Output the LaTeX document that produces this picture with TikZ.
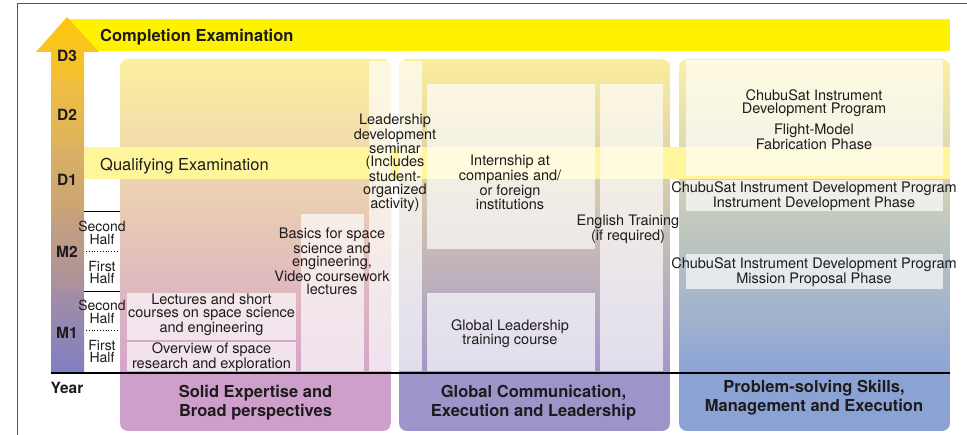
\documentclass[tikz,border=0pt]{standalone}
\usepackage{fontspec}
\setmainfont{TeX Gyre Heros}
\definecolor{txt}{HTML}{1E1B1C}
\definecolor{bannery}{HTML}{FFF200}
\definecolor{bandy}{HTML}{FFF59B}
\definecolor{c1a}{HTML}{FCF09E}
\definecolor{c1b}{HTML}{E9CFB3}
\definecolor{c1c}{HTML}{D4A4CC}
\definecolor{c1l}{HTML}{CE9FCB}
\definecolor{c2a}{HTML}{FBEE9C}
\definecolor{c2b}{HTML}{CDBDB5}
\definecolor{c2c}{HTML}{A296CA}
\definecolor{c2l}{HTML}{9D94C9}
\definecolor{c3a}{HTML}{FDF0A2}
\definecolor{c3b}{HTML}{C8C8BA}
\definecolor{c3c}{HTML}{8CA4D6}
\definecolor{c3l}{HTML}{8BA3D4}
\definecolor{frame}{HTML}{555555}
\definecolor{a3t}{HTML}{FDC60E}
\definecolor{a3b}{HTML}{F3C134}
\definecolor{a2t}{HTML}{F0BE3E}
\definecolor{a2b}{HTML}{DDB35E}
\definecolor{a1t}{HTML}{DBB064}
\definecolor{a1b}{HTML}{CBA474}
\definecolor{m2t}{HTML}{C8A27C}
\definecolor{m2b}{HTML}{A8909E}
\definecolor{m1t}{HTML}{A28EA6}
\definecolor{m1b}{HTML}{7F7FC1}
\tikzset{
  body/.style={font=\fontsize{14.5}{13}\selectfont, text=txt, align=center, inner sep=0pt},
  lbl/.style={font=\bfseries\fontsize{16.5}{18.5}\selectfont, text=txt, align=center, inner sep=0pt},
  yrlbl/.style={font=\bfseries\fontsize{15.5}{15.5}\selectfont, text=txt, inner sep=0pt},
  halflbl/.style={font=\fontsize{14}{12.5}\selectfont, text=txt, align=center, inner sep=0pt},
  inbox/.style={fill=white, fill opacity=0.68},
}
\begin{document}
\begin{tikzpicture}[x=1pt,y=-1pt]
\useasboundingbox (0,0) rectangle (967,435);
% frame
\draw[frame, line width=1pt] (17,435) -- (17,4) -- (967,4);
% completion banner
\fill[bannery] (70,19) rectangle (950,51);
% arrow
\shade[top color=a3t, bottom color=a3b] (51,80) -- (51,52) -- (36,52) -- (67,17) -- (99,52) -- (84,52) -- (84,80) -- cycle;
\shade[top color=a2t, bottom color=a2b] (51,81) rectangle (84,146);
\shade[top color=a1t, bottom color=a1b] (51,147) rectangle (84,211);
\shade[top color=m2t, bottom color=m2b] (51,212) rectangle (84,291);
\shade[top color=m1t, bottom color=m1b] (51,292) rectangle (84,373);
% column backgrounds
\begin{scope}
  \clip[rounded corners=8pt] (120,59) rectangle (391,431);
  \shade[top color=c1a, middle color=c1b, bottom color=c1c] (120,59) rectangle (391,373);
  \fill[c1l] (120,373) rectangle (391,431);
\end{scope}
\begin{scope}
  \clip[rounded corners=8pt] (399,59) rectangle (670,431);
  \shade[top color=c2a, middle color=c2b, bottom color=c2c] (399,59) rectangle (670,373);
  \fill[c2l] (399,373) rectangle (670,431);
\end{scope}
\begin{scope}
  \clip[rounded corners=8pt] (679,59) rectangle (950,431);
  \shade[top color=c3a, middle color=c3b, bottom color=c3c] (679,59) rectangle (950,373);
  \fill[c3l] (679,373) rectangle (950,431);
\end{scope}
% qualifying band
\fill[bandy] (84,147) rectangle (950,179);
% inner boxes
\begin{scope}
  \clip[rounded corners=8pt] (120,59) rectangle (391,431);
  \fill[inbox] (127,293) rectangle (296,340);
  \fill[inbox] (127,342) rectangle (296,371);
  \fill[inbox] (301,214) rectangle (364,371);
  \fill[inbox] (369,61) rectangle (391,371);
\end{scope}
\begin{scope}
  \clip[rounded corners=8pt] (399,59) rectangle (670,431);
  \fill[inbox] (399,61) rectangle (422,371);
  \fill[inbox] (427,84) rectangle (595,249);
  \fill[inbox] (600,84) rectangle (663,371);
  \fill[inbox] (427,293) rectangle (595,371);
\end{scope}
\begin{scope}
  \clip[rounded corners=8pt] (679,59) rectangle (950,431);
  \fill[inbox] (686,60) rectangle (943,176);
  \fill[inbox] (686,180) rectangle (943,211);
  \fill[inbox] (686,254) rectangle (943,289);
\end{scope}
% separators
\draw[line width=1.6pt] (51,373) -- (950,373);
\draw[line width=0.9pt] (84,211) -- (120,211);
\draw[line width=0.9pt] (84,291) -- (120,291);
\draw[dotted, line width=0.8pt] (86,251) -- (119,251);
\draw[dotted, line width=0.8pt] (86,330) -- (119,330);
% texts
\node[lbl, anchor=base west] (comp) at (100,42) {Completion Examination};
\node[font=\fontsize{16.5}{18}\selectfont, text=txt, anchor=base west, inner sep=0pt] (qual) at (100,170.5) {Qualifying Examination};
\node[yrlbl] (d3) at (67,56) {D3};
\node[yrlbl] (d2) at (67,115) {D2};
\node[yrlbl] (d1) at (67,180) {D1};
\node[yrlbl] (m2) at (67,252) {M2};
\node[yrlbl] (m1) at (67,333) {M1};
\node[font=\bfseries\fontsize{15.5}{15.5}\selectfont, text=txt, inner sep=0pt] (year) at (67,388) {Year};
\node[halflbl] (m2s) at (102,233) {Second\\Half};
\node[halflbl] (m2f) at (102,272.5) {First\\Half};
\node[halflbl] (m1s) at (102,312) {Second\\Half};
\node[halflbl] (m1f) at (102,351.5) {First\\Half};
\node[body] (lect) at (211.5,315) {Lectures and short\\courses on space science\\and engineering};
\node[body] (over) at (211.5,357) {Overview of space\\research and exploration};
\node[body] (basic) at (332,261.5) {Basics for space\\science and\\engineering,\\Video coursework\\lectures};
\node[body] (lead) at (395,163) {Leadership\\development\\seminar\\(Includes\\student-\\organized\\activity)};
\node[body] (intern) at (510,182.5) {Internship at\\companies and/\\or foreign\\institutions};
\node[body] (eng) at (628,229) {English Training\\(if required)};
\node[body] (glob) at (510,333.5) {Global Leadership\\training course};
\node[body] (flight) at (814,119.5) {ChubuSat Instrument\\Development Program\\[7pt]Flight-Model\\Fabrication Phase};
\node[body] (instr) at (814,196) {ChubuSat Instrument Development Program\\Instrument Development Phase};
\node[body] (miss) at (814,272) {ChubuSat Instrument Development Program\\Mission Proposal Phase};
\node[lbl] (l1) at (255.5,402.5) {Solid Expertise and\\Broad perspectives};
\node[lbl] (l2) at (533.5,402.5) {Global Communication,\\Execution and Leadership};
\node[lbl] (l3) at (814,397.5) {Problem-solving Skills,\\Management and Execution};
\end{tikzpicture}
\end{document}
